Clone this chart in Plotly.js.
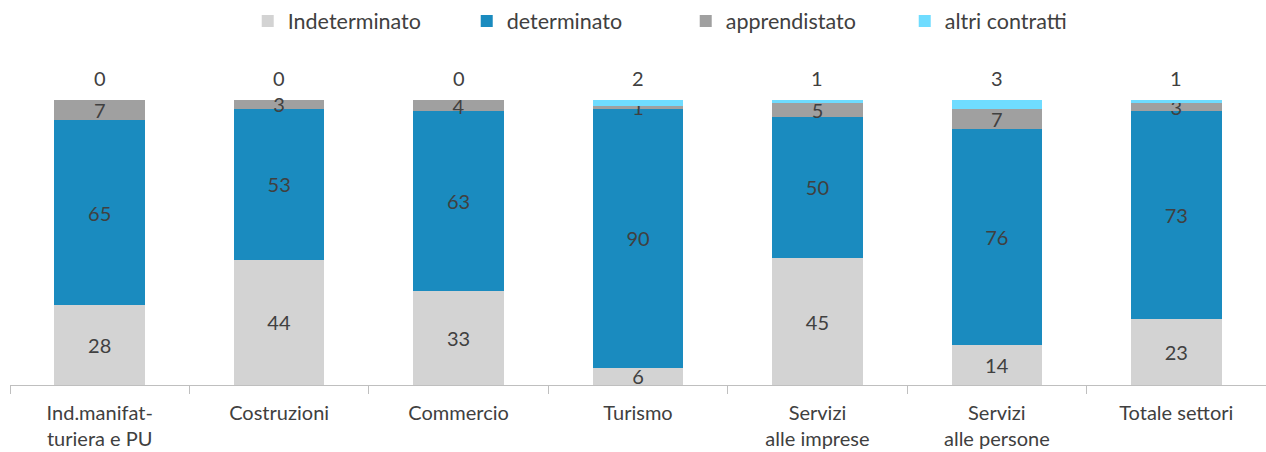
<!DOCTYPE html>
<html>
<head>
<meta charset="utf-8">
<script src="https://cdn.plot.ly/plotly-3.0.1.min.js"></script>
<style>html,body{margin:0;padding:0;background:#fff;}#chart{width:1266px;height:452px;}</style>
</head>
<body>
<div id="chart"></div>
<script>
var categories = ["Ind.manifat-<br>turiera e PU", "Costruzioni", "Commercio", "Turismo", "Servizi<br>alle imprese", "Servizi<br>alle persone", "Totale settori"];
var indeterminato = [28, 44, 33, 6, 45, 14, 23];
var determinato = [65, 53, 63, 90, 50, 76, 73];
var apprendistato = [7, 3, 4, 1, 5, 7, 3];
var altriContratti = [0, 0, 0, 2, 1, 3, 1];
var seriesNames = ["Indeterminato", "determinato", "apprendistato", "altri contratti"];
var seriesColors = ["#D3D3D3", "#1A8BBF", "#A0A0A0", "#6FDCFF"];

var txtFont = {family: "Lato, 'Open Sans', sans-serif", size: 20, color: "#404040"};
var legFont = {family: "Lato, 'Open Sans', sans-serif", size: 21.5, color: "#404040"};
var allSeries = [indeterminato, determinato, apprendistato, altriContratti];

var traces = allSeries.map(function (vals, i) {
  var isTop = i === allSeries.length - 1;
  return {
    type: "bar",
    name: seriesNames[i],
    x: categories,
    y: vals,
    marker: {color: seriesColors[i], line: {width: 0}},
    text: isTop ? null : vals.map(String),
    texttemplate: isTop ? "" : "%{text}",
    textposition: isTop ? "none" : "inside",
    insidetextanchor: "middle",
    constraintext: "none",
    textangle: 0,
    textfont: txtFont,
    insidetextfont: txtFont,
    cliponaxis: false,
    hoverinfo: "skip"
  };
});

var annotations = categories.map(function (c, j) {
  return {
    x: c, y: 100, xref: "x", yref: "y",
    text: String(altriContratti[j]),
    showarrow: false, yanchor: "middle", yshift: 22,
    font: txtFont
  };
});

var layout = {
  width: 1266, height: 452,
  margin: {l: 10, r: 0, t: 100, b: 67},
  paper_bgcolor: "#fff", plot_bgcolor: "#fff",
  barmode: "stack",
  barnorm: "percent",
  bargap: 0.495,
  showlegend: true,
  legend: {
    orientation: "h", x: 0.538, xanchor: "center", y: 1.277, yanchor: "middle",
    font: legFont, traceorder: "normal", itemclick: false,
    entrywidth: 174, entrywidthmode: "pixels"
  },
  xaxis: {
    type: "category",
    showline: true, linecolor: "#BFBFBF", linewidth: 1,
    ticks: "outside", tickson: "boundaries", ticklen: 8, tickcolor: "#BFBFBF",
    ticklabelstandoff: 10,
    tickfont: txtFont, showgrid: false, zeroline: false
  },
  yaxis: {range: [0, 100], visible: false, showgrid: false, zeroline: false},
  annotations: annotations,
  font: txtFont
};

Plotly.newPlot("chart", traces, layout, {staticPlot: true, displayModeBar: false});
</script>
</body>
</html>
